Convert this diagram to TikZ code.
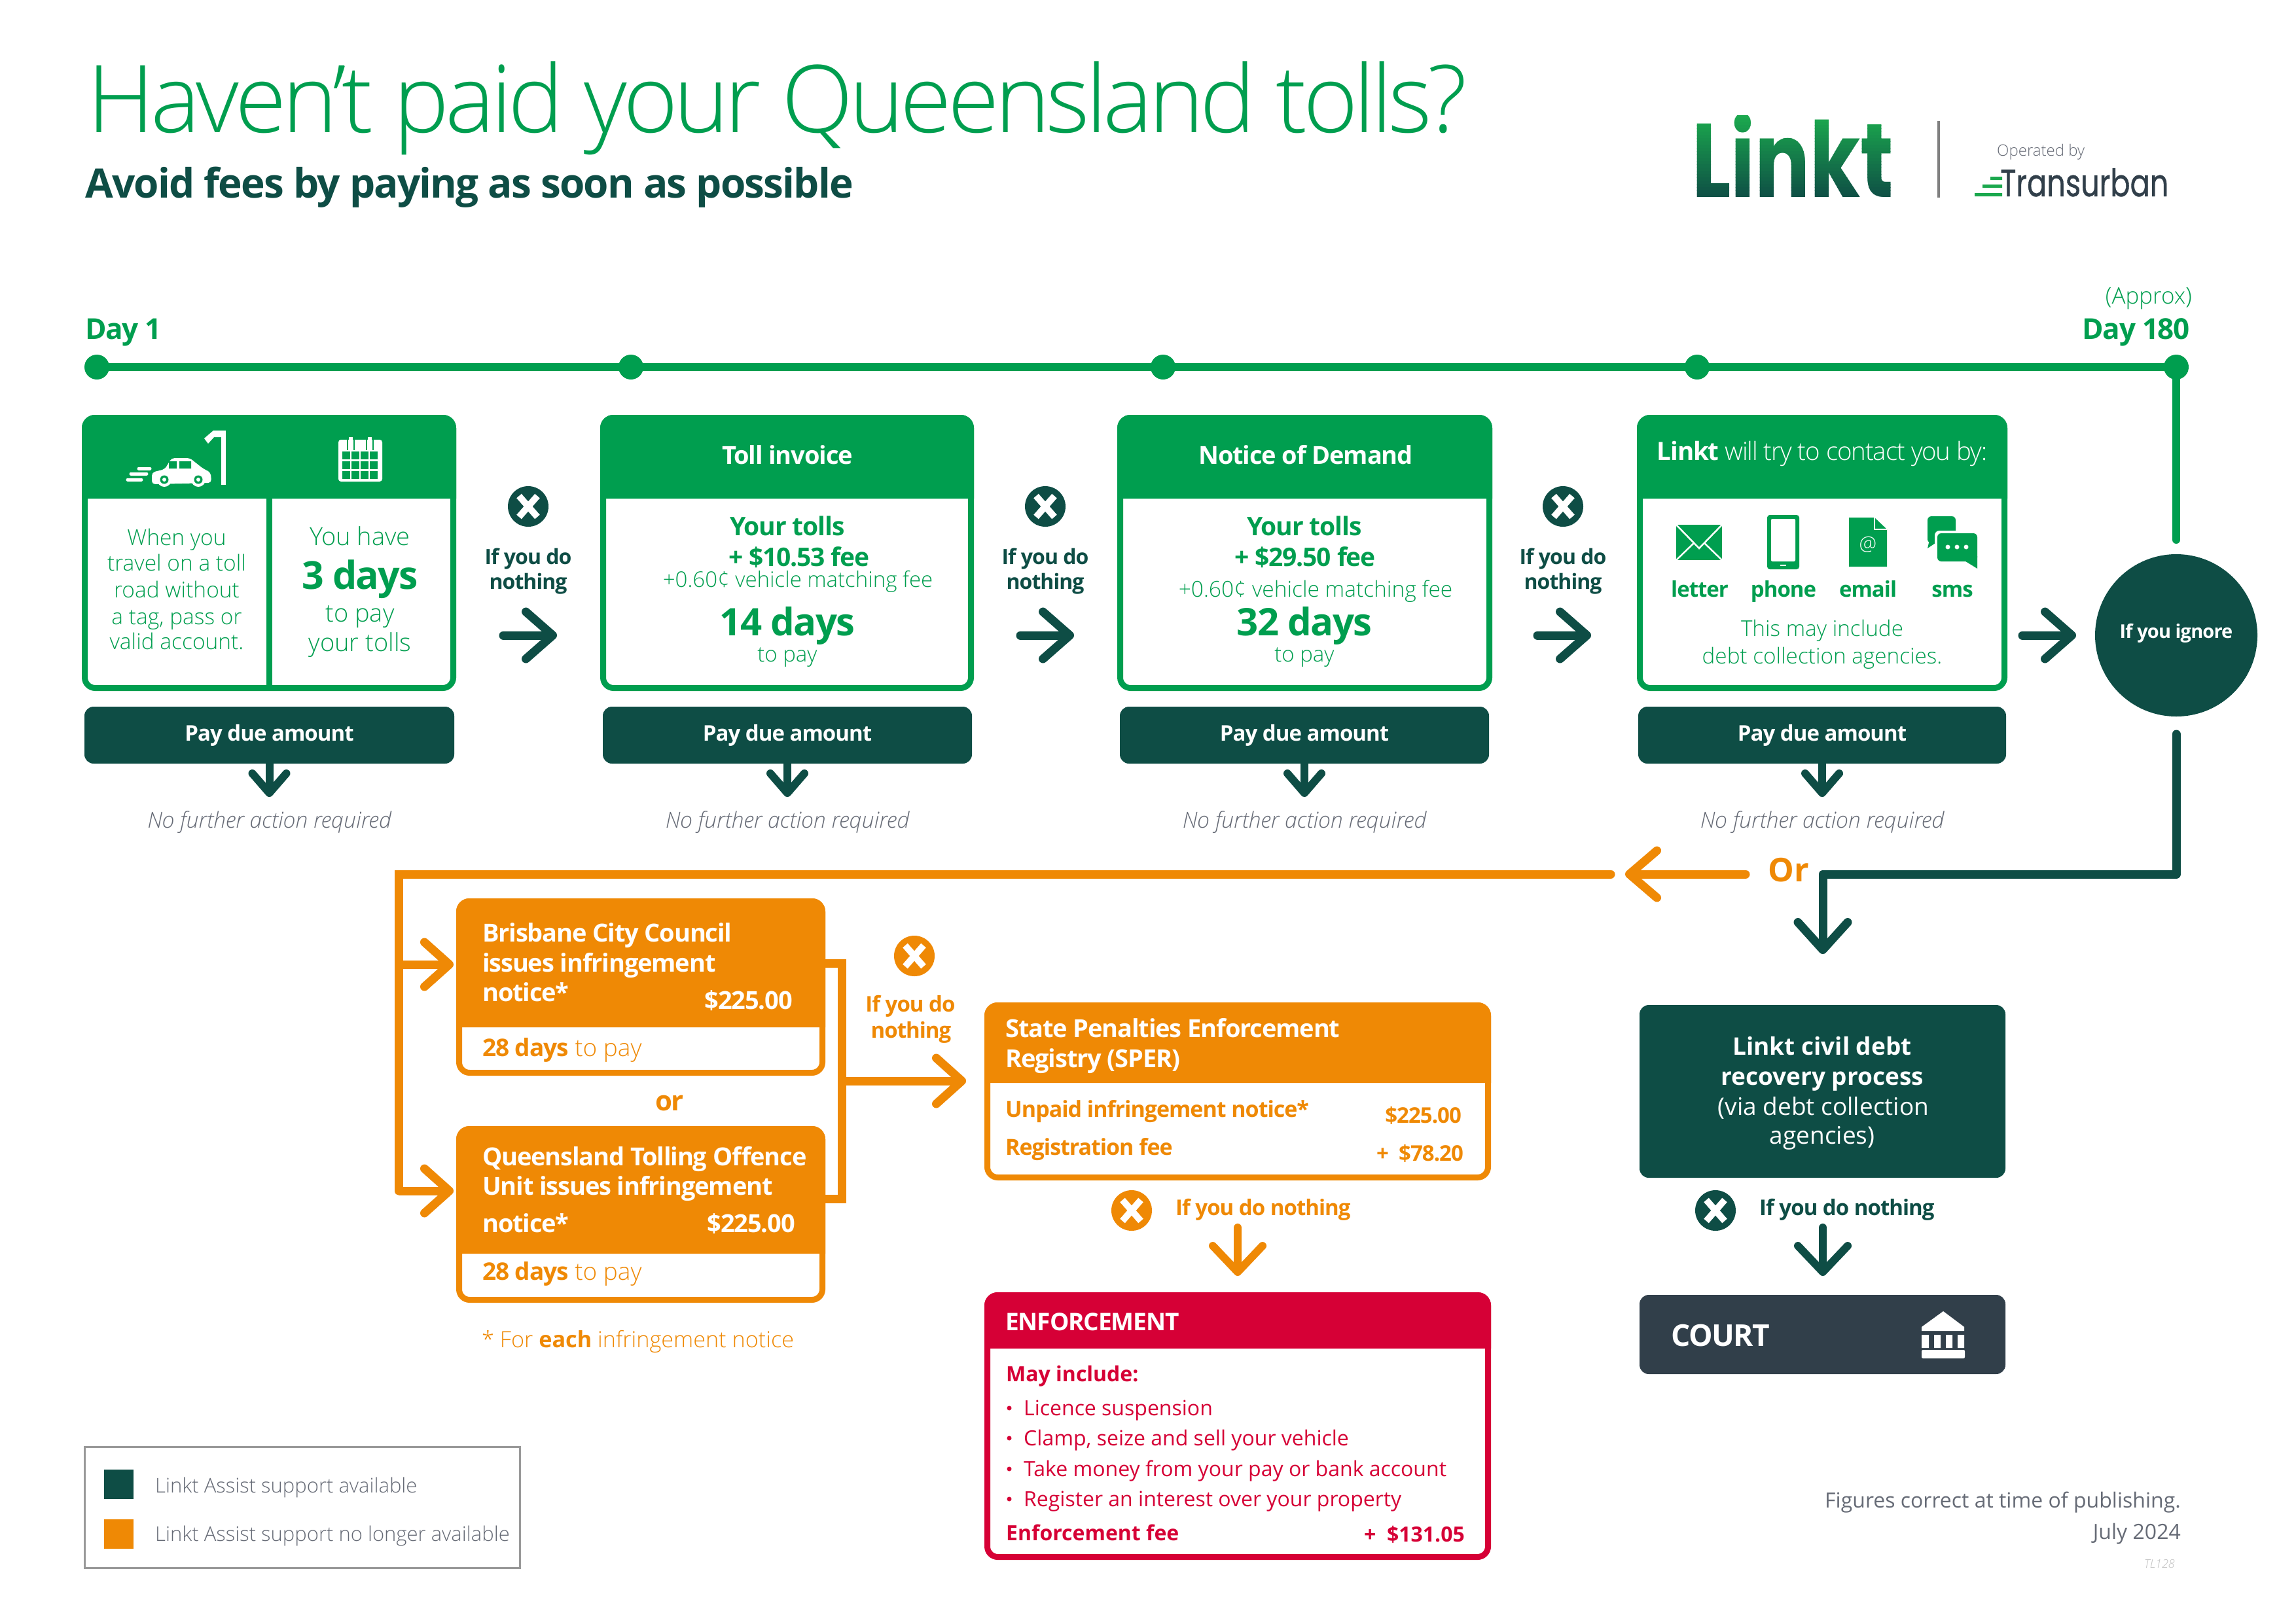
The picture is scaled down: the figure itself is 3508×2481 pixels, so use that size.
\documentclass[tikz,border=0pt]{standalone}
\usepackage{fontspec}
\usepackage{xcolor}
\usetikzlibrary{arrows.meta,calc}
\setmainfont{Open Sans}
\newfontfamily\fl{Open Sans Light}
\newfontfamily\flt[LetterSpace=-4.3]{Open Sans Light}
\newfontfamily\flc[LetterSpace=-3]{Open Sans Light}
\newfontfamily\fli{Open Sans Light Italic}
\newfontfamily\fbc[LetterSpace=-3]{Open Sans}
\newcommand\fbd{\rmfamily\bfseries}
\newcommand\fsb{\fbc\bfseries}
\newfontfamily\logofont[FakeStretch=0.78]{Poppins}
\newfontfamily\turbfont[FakeStretch=0.77,FakeBold=0.6]{Poppins}
\definecolor{gn}{HTML}{009E4F}
\definecolor{dk}{HTML}{0E4D45}
\definecolor{og}{HTML}{EF8905}
\definecolor{rd}{HTML}{D60036}
\definecolor{ct}{HTML}{313F4A}
\definecolor{gy}{HTML}{666B76}
\definecolor{lgrad}{HTML}{1BA84E}
\tikzset{
 lt/.style={font=\fl\fontsize{#1}{#1}\selectfont,yshift={-0.28*#1}},
 rg/.style={font=\rmfamily\fontsize{#1}{#1}\selectfont,yshift={-0.28*#1}},
 sb/.style={font=\fsb\fontsize{#1}{#1}\selectfont,yshift={-0.28*#1}},
 bd/.style={font=\fbd\fontsize{#1}{#1}\selectfont,yshift={-0.28*#1}},
 bc/.style={font=\fsb\fontsize{#1}{#1}\selectfont,yshift={-0.28*#1}},
 tl/.style={inner sep=0,anchor=mid west},
 tr/.style={inner sep=0,anchor=mid east},
 tc/.style={inner sep=0,anchor=mid},
 cardst/.style={draw=#1,line width=9pt,rounded corners=16pt,inner sep=0,fill=white},
 paybar/.style={fill=dk,rounded corners=14pt,inner sep=0,minimum height=87pt,text=white,font=\fsb\fontsize{33}{33}\selectfont},
 xcirc/.style={circle,fill=#1,minimum size=62pt,inner sep=0},
 xline/.style={white,line width=10pt},
 chevA/.style={line width=13pt,line cap=round,-{Straight Barb[length=41pt,width=72pt,line width=13pt,round]}},
 chevB/.style={line width=12pt,-{Straight Barb[length=30pt,width=52pt,line width=12pt,round]}},
 chevC/.style={line width=12pt,line cap=round,-{Straight Barb[length=40pt,width=76pt,line width=12pt,round]}},
 tline/.style={line width=12pt,line cap=round},
}
\newcommand\card[7]{% name l t r b headerbottom colour
  \pgfmathsetmacro\cw{#4-#2-9}\pgfmathsetmacro\ch{#5-#3-9}%
  \pgfmathsetmacro\cx{(#2+#4)/2}\pgfmathsetmacro\cy{(#3+#5)/2}%
  \node[cardst=#7,minimum width=\cw pt,minimum height=\ch pt] (#1) at (\cx,\cy) {};
  \fill[#7] (#2,#6) {[rounded corners=20pt] -- (#2,#3) -- (#4,#3)} -- (#4,#6) -- cycle;
}
\newcommand\xmark[4]{% name x y colour
  \node[xcirc=#4] (#1) at (#2,#3) {};
  \draw[xline] ($(#1)+(-14,-16)$) -- ($(#1)+(14,16)$);
  \draw[xline] ($(#1)+(-14,16)$) -- ($(#1)+(14,-16)$);
}
\begin{document}
\begin{tikzpicture}[x=1pt,y=-1pt]
\useasboundingbox (0,0) rectangle (3508,2481);
\fill[white] (0,0) rectangle (3508,2481);
% ---- title
\node[tl,lt=143,font=\flt\fontsize{143}{143}\selectfont,text=gn] (title) at (133,160) {Haven’t paid your Queensland tolls?};
\node[tl,bc=62,text=dk] (subtitle) at (130,282) {Avoid fees by paying as soon as possible};
% ---- logo: one word, coloured in thin bands from the light green down to the dark green
\foreach \i in {0,...,25}{
  \pgfmathsetmacro\pc{100-100*\i/25}
  \begin{scope}
    \clip (2570,176+5*\i) rectangle (2920,181.6+5*\i);
    \node[inner sep=0,anchor=base west,text=lgrad!\pc!dk,font=\logofont\bfseries\fontsize{160}{160}\selectfont] (linkt\i) at (2585,301) {Linkt};
  \end{scope}
}
\coordinate (sepA) at (2962,185); \coordinate (sepB) at (2962,302);
\draw[gray,line width=4pt] (sepA) -- (sepB);
\node[tl,lt=24,text=gy] (opby) at (3051,229) {Operated by};
\node[inner sep=0,anchor=base west,text=ct,font=\turbfont\fontsize{58}{58}\selectfont] (turb) at (3056,300) {Transurban};
\fill[lgrad] (3017,295) rectangle (3059,300) (3029,282) rectangle (3059,287) (3041,270) rectangle (3059,275);
% ---- timeline
\node[tl,sb=44,text=gn] (day1) at (130,503) {Day 1};
\node[tr,lt=35,text=gn] (approx) at (3349,452) {(Approx)};
\node[tr,sb=44,text=gn] (day180) at (3346,503) {Day 180};
\node[circle,fill=gn,minimum size=38pt,inner sep=0] (d1) at (148,561) {};
\node[circle,fill=gn,minimum size=38pt,inner sep=0] (d2) at (964,561) {};
\node[circle,fill=gn,minimum size=38pt,inner sep=0] (d3) at (1777,561) {};
\node[circle,fill=gn,minimum size=38pt,inner sep=0] (d4) at (2593,561) {};
\node[circle,fill=gn,minimum size=38pt,inner sep=0] (d5) at (3325,561) {};
\draw[gn,tline] (d1.center) -- (d2.center) -- (d3.center) -- (d4.center) -- (d5.center);
\coordinate (vgEnd) at (3325,825);
\draw[gn,tline] (d5.center) -- (vgEnd);
% ---- cards
\card{c1}{125}{634}{697}{1056}{762}{gn}
\draw[gn,line width=9pt] (411,762) -- (411,1050);
\card{c2}{917}{634}{1488}{1056}{762}{gn}
\card{c3}{1707}{634}{2280}{1056}{762}{gn}
\card{c4}{2501}{634}{3067}{1056}{762}{gn}
% car + pole
\fill[white] (338,658) rectangle (345,741);
\fill[white] (338,658) -- (326,658) -- (312,670) -- (318,678) -- (327,668) -- (338,668) -- cycle;
\fill[white,rounded corners=5pt] (232,740) -- (232,722) -- (252,717) -- (262,700) -- (290,700) -- (310,716) -- (322,722) -- (323,738) -- cycle;
\fill[gn] (258,705) rectangle (270,716) (274,705) rectangle (292,716);
\fill[white] (251,733) circle (11); \fill[gn] (251,733) circle (6.5); \fill[white] (251,733) circle (3);
\fill[white] (303,733) circle (11); \fill[gn] (303,733) circle (6.5); \fill[white] (303,733) circle (3);
\draw[white,line width=5pt,line cap=round] (195,733) -- (216,733) (200,724) -- (224,724) (212,716) -- (229,716);
% calendar
\fill[white,rounded corners=4pt] (517,672) rectangle (584,736);
\draw[white,line width=6pt] (536,668) -- (536,684) (565,668) -- (565,684);
\draw[gn,line width=2pt] (531,664) -- (531,688) (541,664) -- (541,688) (560,664) -- (560,688) (570,664) -- (570,688);
\foreach \cxx in {523,537,551,565} \foreach \cyy in {690,705,720}{\fill[gn] (\cxx,\cyy) rectangle ++(11.5,12);}
% card 1
\node[tc,lt=33.5,text=gn] (t11) at (270,821) {When you};
\node[tc,lt=33.5,text=gn] (t12) at (270,860) {travel on a toll};
\node[tc,lt=33.5,text=gn] (t13) at (270,901) {road without};
\node[tc,lt=33.5,text=gn] (t14) at (270,942) {a tag, pass or};
\node[tc,lt=33.5,text=gn] (t15) at (270,980) {valid account.};
\node[tc,lt=38,text=gn] (t16) at (550,820) {You have};
\node[tc,bc=59,text=gn] (t17) at (550,881) {3 days};
\node[tc,lt=38,text=gn] (t18) at (550,937) {to pay};
\node[tc,lt=38,text=gn] (t19) at (550,982) {your tolls};
% card 2
\node[tc,sb=38,text=white] (h2) at (1203,696) {Toll invoice};
\node[tc,sb=39,text=gn] (t21) at (1203,805) {Your tolls};
\node[tc,sb=39,text=gn] (t22) at (1221,852) {+ \$10.53 fee};
\node[tc,lt=33,text=gn] (t23) at (1219,886) {+0.60¢ vehicle matching fee};
\node[tc,bc=58,text=gn] (t24) at (1203,953) {14 days};
\node[tc,lt=33,text=gn] (t25) at (1203,1000) {to pay};
% card 3
\node[tc,sb=38,text=white] (h3) at (1995,696) {Notice of Demand};
\node[tc,sb=39,text=gn] (t31) at (1993,805) {Your tolls};
\node[tc,sb=39,text=gn] (t32) at (1994,852) {+ \$29.50 fee};
\node[tc,lt=33.5,text=gn] (t33) at (2010,900) {+0.60¢ vehicle matching fee};
\node[tc,bc=58,text=gn] (t34) at (1993,953) {32 days};
\node[tc,lt=33,text=gn] (t35) at (1993,1000) {to pay};
% card 4
\node[tc,lt=38,font=\flc\fontsize{38.5}{38.5}\selectfont,text=white] (h4) at (2784,690) {{\fsb Linkt} will try to contact you by:};
% letter
\fill[gn] (2561,802) rectangle (2631,856);
\draw[white,line width=2.5pt] (2561,802) -- (2596,838) -- (2631,802) (2561,856) -- (2588,830) (2631,856) -- (2604,830);
% phone
\fill[gn,rounded corners=4pt] (2700,787) rectangle (2749,870);
\fill[white,rounded corners=2pt] (2706,793) rectangle (2743,858);
\fill[white] (2720,863) rectangle (2729,865);
% email doc
\fill[gn] (2825,791) -- (2864,791) -- (2883,809) -- (2883,866) -- (2825,866) -- cycle;
\draw[white,line width=2.5pt] (2864,791) -- (2864,809) -- (2883,809);
\node[tc,lt=30,text=white] (at) at (2854,830) {@};
% sms bubbles
\fill[gn,rounded corners=6pt] (2945,789) rectangle (2988,830);
\fill[gn] (2948,825) -- (2945,838) -- (2960,828) -- cycle;
\fill[white,rounded corners=7pt] (2956,811) rectangle (3024,862);
\fill[gn,rounded corners=6pt] (2960,815) rectangle (3021,858);
\fill[gn] (3000,856) -- (3021,869) -- (3021,850) -- cycle;
\fill[white] (2976,836) circle (3.5) (2990,836) circle (3.5) (3004,836) circle (3.5);
\node[tc,sb=33,text=gn] (l1) at (2597,901) {letter};
\node[tc,sb=33,text=gn] (l2) at (2725,901) {phone};
\node[tc,sb=33,text=gn] (l3) at (2854,901) {email};
\node[tc,sb=33,text=gn] (l4) at (2983,901) {sms};
\node[tc,lt=33.3,text=gn] (t41) at (2784,960) {This may include};
\node[tc,lt=33.3,text=gn] (t42) at (2784,1002) {debt collection agencies.};
% ---- pay bars
\node[paybar,minimum width=565pt] (p1) at (411.5,1123.5) {Pay due amount};
\node[paybar,minimum width=564pt] (p2) at (1203,1123.5) {Pay due amount};
\node[paybar,minimum width=564pt] (p3) at (1993,1123.5) {Pay due amount};
\node[paybar,minimum width=562pt] (p4) at (2784,1123.5) {Pay due amount};
\foreach \n/\xc in {1/411.5,2/1203,3/1993,4/2784}{
  \coordinate (pt\n) at (\xc,1218);
  \draw[dk,chevB] (p\n.south) -- (pt\n);
  \node[tc,text=gy,yshift=-9.5pt,font=\fli\fontsize{33.8}{33.8}\selectfont] (nf\n) at (\xc,1253) {No further action required};
}
% ---- if you do nothing (row 1)
\foreach \n/\xc/\xa in {1/807/769,2/1597/1559,3/2388/2349}{
  \xmark{xr\n}{\xc}{774}{dk}
  \node[tc,sb=32,text=dk] (iy\n) at (\xc,851) {If you do};
  \node[tc,sb=32,text=dk] (no\n) at (\xc,889) {nothing};
  \coordinate (aa\n) at (\xa,971); \coordinate (ab\n) at (\xa+82,971);
  \draw[dk,chevA] (aa\n) -- (ab\n);
}
\coordinate (aa4) at (3090,971); \coordinate (ab4) at (3172,971);
\draw[dk,chevA] (aa4) -- (ab4);
% ---- if you ignore
\node[circle,fill=dk,minimum size=248pt,inner sep=0] (ign) at (3325,971) {};
\node[tc,sb=29,text=white] (igt) at (3325,965) {If you ignore};
% ---- lower connectors
\coordinate (dkS) at (3325,1122); \coordinate (dkT) at (2785,1458);
\draw[dk,line width=13pt,line join=round,line cap=round,-{Straight Barb[length=42pt,width=76pt,line width=13pt,round]}] (dkS) |- (2785,1336) -- (dkT);
\node[tc,bd=50,text=og] (ortxt) at (2733,1331) {Or};
\coordinate (orS) at (2667,1336); \coordinate (orT) at (2483,1336);
\draw[og,line width=13pt,line cap=round,-{Straight Barb[length=42pt,width=72pt,line width=13pt,round]}] (orS) -- (orT);
% brisbane card
\card{ca}{697}{1373}{1261}{1644}{1570}{og}
\node[tl,sb=38,text=white] (a1) at (737,1426) {Brisbane City Council};
\node[tl,sb=38,text=white] (a2) at (737,1472) {issues infringement};
\node[tl,sb=38,text=white] (a3) at (737,1517) {notice*};
\node[tr,sb=38,text=white] (a4) at (1211,1529) {\$225.00};
\node[tl,lt=37,text=og] (a5) at (737,1601) {{\fsb 28 days} to pay};
\node[tc,sb=42,text=og] (orl) at (1023,1683) {or};
% queensland card
\card{cb}{697}{1721}{1261}{1991}{1916}{og}
\node[tl,sb=38,text=white] (b1) at (737,1768) {Queensland Tolling Offence};
\node[tl,sb=38,text=white] (b2) at (737,1813) {Unit issues infringement};
\node[tl,sb=38,text=white] (b3) at (737,1870) {notice*};
\node[tr,sb=38,text=white] (b4) at (1215,1870) {\$225.00};
\node[tl,lt=37,text=og] (b5) at (737,1943) {{\fsb 28 days} to pay};
\node[tl,lt=34.2,text=og] (foot) at (736,2047) {* For {\fbd each} infringement notice};
% orange feed
\coordinate (fdS) at (2461,1336);
\coordinate (ta) at (693,1474); \coordinate (tb) at (693,1820);
\coordinate (fdL) at (609,1336); \coordinate (fdM) at (609,1474); \coordinate (fdB) at (609,1820);
\draw[og,line width=13pt,line join=miter,line cap=round] (fdS) -- (fdL) -- (fdB);
\draw[og,line width=13pt,-{Straight Barb[length=38pt,width=68pt,line width=13pt,round]}] (fdM) -- (ta);
\draw[og,line width=13pt,-{Straight Barb[length=38pt,width=68pt,line width=13pt,round]}] (fdB) -- (tb);
% orange bracket
\coordinate (brB) at (1286,1472); \coordinate (brC) at (1286,1832);
\coordinate (brM) at (1286,1652); \coordinate (brT) at (1476,1652);
\draw[og,line width=13pt] (ca.east|-brB) -- (brB) -- (brC) -- (cb.east|-brC);
\draw[og,line width=13pt,-{Straight Barb[length=39pt,width=70pt,line width=13pt,round]}] (brM) -- (brT);
\xmark{xo1}{1397}{1461}{og}
\node[tc,sb=33,text=og] (oi1) at (1391,1535) {If you do};
\node[tc,sb=33,text=og] (on1) at (1392,1575) {nothing};
% SPER
\card{cs}{1504}{1532}{2278}{1804}{1655}{og}
\node[tl,sb=38,text=white] (s1) at (1536,1572) {State Penalties Enforcement};
\node[tl,sb=38,text=white] (s2) at (1536,1618) {Registry (SPER)};
\node[tl,sb=34,text=og] (s3) at (1536,1695) {Unpaid infringement notice*};
\node[tr,sb=33,text=og] (s4) at (2233,1705) {\$225.00};
\node[tl,sb=34,text=og] (s5) at (1536,1753) {Registration fee};
\node[tr,sb=33,text=og] (s6) at (2236,1763) {+\ \ \$78.20};
\xmark{xo2}{1729}{1850}{og}
\node[tl,sb=33,text=og] (oi2) at (1796,1846) {If you do nothing};
\coordinate (oa1) at (1891,1876); \coordinate (oa2) at (1891,1950);
\draw[og,chevC] (oa1) -- (oa2);
% enforcement
\card{ce}{1504}{1975}{2278}{2384}{2061}{rd}
\node[tl,sb=37,text=white] (e1) at (1536,2020) {ENFORCEMENT};
\node[tl,bd=32,text=rd] (e2) at (1537,2100) {May include:};
\foreach \n/\yy/\tt in {3/2152/Licence suspension,4/2198/{Clamp, seize and sell your vehicle},5/2245/Take money from your pay or bank account,6/2291/Register an interest over your property}{
  \node[circle,inner sep=0,fill=rd,minimum size=7pt] (bu\n) at (1542,\yy) {};
  \node[tl,rg=32,text=rd] (e\n) at (1564,\yy) {\tt};
}
\node[tl,bd=32,text=rd] (e7) at (1537,2343) {Enforcement fee};
\node[tr,bd=32,text=rd] (e8) at (2238,2345) {+\ \ \$131.05};
% civil debt
\node[fill=dk,rounded corners=14pt,inner sep=0,minimum width=559pt,minimum height=264pt] (cv) at (2784.5,1668) {};
\node[tc,bd=37,text=white] (v1) at (2784,1599) {Linkt civil debt};
\node[tc,bd=37,text=white] (v2) at (2784,1645) {recovery process};
\node[tc,rg=37,text=white] (v3) at (2786,1691) {(via debt collection};
\node[tc,rg=37,text=white] (v4) at (2784,1735) {agencies)};
\xmark{xd}{2621}{1850}{dk}
\node[tl,sb=33,text=dk] (di) at (2688,1846) {If you do nothing};
\coordinate (da1) at (2785,1876); \coordinate (da2) at (2785,1950);
\draw[dk,chevC] (da1) -- (da2);
% court
\node[fill=ct,rounded corners=14pt,inner sep=0,minimum width=559pt,minimum height=121pt] (crt) at (2784.5,2039.5) {};
\node[tl,sb=46,text=white] (crtt) at (2553,2042) {COURT};
\fill[white] (2969,2004) -- (3001,2028) -- (3001,2034) -- (2936,2034) -- (2936,2028) -- cycle;
\fill[white] (2936,2040) rectangle (2947,2060) (2955,2040) rectangle (2965,2060) (2973,2040) rectangle (2983,2060) (2991,2040) rectangle (3001,2060);
\fill[white,rounded corners=2pt] (2936,2063) rectangle (3002,2076);
% legend
\node[draw=gray!80,line width=3pt,inner sep=0,minimum width=665pt,minimum height=185pt] (leg) at (462,2304) {};
\node[fill=dk,minimum size=45pt,inner sep=0] (lg1) at (181,2268) {};
\node[fill=og,minimum size=45pt,inner sep=0] (lg2) at (181,2344) {};
\node[tl,lt=31,text=gy] (lt1) at (237,2270) {Linkt Assist support available};
\node[tl,lt=31,text=gy] (lt2) at (237,2344) {Linkt Assist support no longer available};
% footer
\node[tr,rg=32,text=gy] (f1) at (3332,2293) {Figures correct at time of publishing.};
\node[tr,rg=32,text=gy] (f2) at (3332,2341) {July 2024};
\node[tr,font=\fli\fontsize{18}{18}\selectfont,text=gray!50,yshift=-5pt] (f3) at (3323,2389) {TL128};
\end{tikzpicture}
\end{document}
